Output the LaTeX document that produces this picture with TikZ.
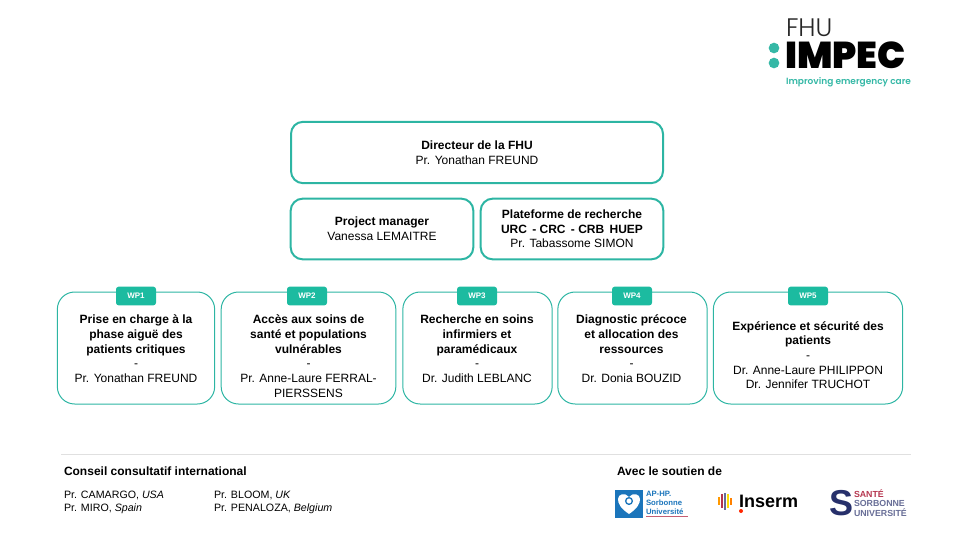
\documentclass[tikz,border=0pt]{standalone}
\usepackage{fontspec}
\setmainfont{Liberation Sans}
\newfontfamily\logofont{Poppins Black}
\newfontfamily\lightfont{Poppins Light}
\newfontfamily\taglinefont{Poppins SemiBold}
\usepackage{tikz}

\definecolor{fhuteal}{HTML}{2DB5A3}
\definecolor{tagteal}{HTML}{1CBBA0}
\definecolor{logoteal}{HTML}{35B8A6}
\definecolor{aphpblue}{HTML}{1B75BB}
\definecolor{ssunavy}{HTML}{27306B}
\definecolor{ssured}{HTML}{B5364F}

\begin{document}
\begin{tikzpicture}[
  x = 0.75pt, y = -0.75pt,
  every node/.style = {inner sep = 0pt, outer sep = 0pt},
  topbox/.style = {draw = fhuteal, line width = 1.5pt, rounded corners = 9pt, font = \fontsize{9}{11}\selectfont, align = center},
  wpbox/.style = {draw = fhuteal, line width = 0.75pt, rounded corners = 13pt, minimum height = 84pt},
  wptag/.style = {fill = tagteal, rounded corners = 2pt, minimum width = 30pt, minimum height = 14pt, text = white, font = \fontsize{6}{7}\selectfont\bfseries},
  wptext/.style = {anchor = north, align = center, font = \fontsize{9}{11}\selectfont},
  foot/.style = {anchor = west, font = \fontsize{8}{9.75}\selectfont, align = left},
  foothead/.style = {anchor = west, font = \fontsize{9}{11}\selectfont\bfseries}
]

\useasboundingbox (0,0) rectangle (960,540);

% logo
\node [anchor = west, font = \lightfont\fontsize{19}{19}\selectfont, text = black!85] (fhu) at (786,28) {FHU};
\node [anchor = west, font = \logofont\fontsize{28}{28}\selectfont] (impec) at (785,55) {IMPEC};
\node [anchor = west, font = \taglinefont\fontsize{6.75}{8}\selectfont, text = logoteal] (tagline) at (786,82) {Improving emergency care};
\node [circle, fill = logoteal, minimum size = 8pt] (dotup) at (774,48) {};
\node [circle, fill = logoteal, minimum size = 8pt] (dotdown) at (774,63) {};

% direction
\node [topbox, minimum width = 279pt, minimum height = 46pt] (director) at (477,152.5)
  {\textbf{Directeur de la FHU}\\Pr. Yonathan FREUND};
\node [topbox, minimum width = 137pt, minimum height = 45.5pt] (manager) at (382,229)
  {\textbf{Project manager}\\Vanessa LEMAITRE};
\node [topbox, minimum width = 137pt, minimum height = 45.5pt] (platform) at (572,229)
  {\textbf{Plateforme de recherche}\\\textbf{URC\, - CRC\, - CRB\, HUEP}\\Pr. Tabassome SIMON};

% work packages
\node [wpbox, minimum width = 118pt] (wp1) at (136,348) {};
\node [wpbox, minimum width = 131pt] (wp2) at (308.5,348) {};
\node [wpbox, minimum width = 112pt] (wp3) at (477.5,348) {};
\node [wpbox, minimum width = 112pt] (wp4) at (632.5,348) {};
\node [wpbox, minimum width = 142pt] (wp5) at (808,348) {};

\node [wptag] (tag1) at (136,296) {WP1};
\node [wptag] (tag2) at (307,296) {WP2};
\node [wptag] (tag3) at (477,296) {WP3};
\node [wptag] (tag4) at (632,296) {WP4};
\node [wptag] (tag5) at (808,296) {WP5};

\node [wptext] (text1) at (136,315)
  {\textbf{Prise en charge à la}\\\textbf{phase aiguë des}\\\textbf{patients critiques}\\-\\Pr. Yonathan FREUND};
\node [wptext] (text2) at (308.5,315)
  {\textbf{Accès aux soins de}\\\textbf{santé et populations}\\\textbf{vulnérables}\\-\\Pr. Anne-Laure FERRAL-\\PIERSSENS};
\node [wptext] (text3) at (477,315)
  {\textbf{Recherche en soins}\\\textbf{infirmiers et}\\\textbf{paramédicaux}\\-\\Dr. Judith LEBLANC};
\node [wptext] (text4) at (631.5,315)
  {\textbf{Diagnostic précoce}\\\textbf{et allocation des}\\\textbf{ressources}\\-\\Dr. Donia BOUZID};
\node [wptext] (text5) at (808,321.5)
  {\textbf{Expérience et sécurité des}\\\textbf{patients}\\-\\Dr. Anne-Laure PHILIPPON\\Dr. Jennifer TRUCHOT};

% footer
\coordinate (ruleleft) at (61,454);
\coordinate (ruleright) at (911,454);
\draw [black!12, line width = 0.75pt] (ruleleft) -- (ruleright);

\node [foothead] (council) at (64,471) {Conseil consultatif international};
\node [foot] (namesleft) at (64,502.5) {Pr. CAMARGO, \textit{USA}\\Pr. MIRO, \textit{Spain}};
\node [foot] (namesright) at (214,502.5) {Pr. BLOOM, \textit{UK}\\Pr. PENALOZA, \textit{Belgium}};
\node [foothead] (support) at (617,471) {Avec le soutien de};

% AP-HP
\node [fill = aphpblue, minimum size = 21pt] (aphp) at (629,503.5) {};
\fill [white] (629,514) .. controls (620,508) and (618,503) .. (618,499) .. controls (618,494) and (625,492) .. (629,497) .. controls (633,492) and (640,494) .. (640,499) .. controls (640,503) and (638,508) .. (629,514) -- cycle;
\node [circle, draw = aphpblue, line width = 1pt, minimum size = 5pt] (aphpring) at (629,501) {};
\node [anchor = west, align = left, text = aphpblue, font = \fontsize{5.8}{6.6}\selectfont\bfseries] (aphptext) at (646,503)
  {AP-HP.\\Sorbonne\\Université};
\coordinate (aphpa) at (646,516);
\coordinate (aphpb) at (688,516);
\draw [ssured!80, line width = 0.5pt] (aphpa) -- (aphpb);

% Inserm
\fill [orange!80!yellow] (718,497) rectangle (720,505);
\fill [ssured] (721,494) rectangle (723,508);
\fill [ssunavy!70] (724,493) rectangle (726,510);
\fill [yellow!80!orange] (727,494) rectangle (729,508);
\fill [orange] (730,498) rectangle (732,505);
\node [circle, fill = red!70!orange, minimum size = 3pt] (insermdot) at (741,511) {};
\node [anchor = west, font = \fontsize{13.5}{13.5}\selectfont\bfseries] (inserm) at (739,501) {Inserm};

% Sante Sorbonne
\node [font = \fontsize{27}{27}\selectfont\bfseries, text = ssunavy] (ssulogo) at (841,503) {S};
\node [anchor = west, align = left, font = \fontsize{6.6}{6.9}\selectfont\bfseries, text = ssunavy!70] (ssutext) at (854,503)
  {\textcolor{ssured}{SANTÉ}\\SORBONNE\\UNIVERSITÉ};

\end{tikzpicture}
\end{document}
